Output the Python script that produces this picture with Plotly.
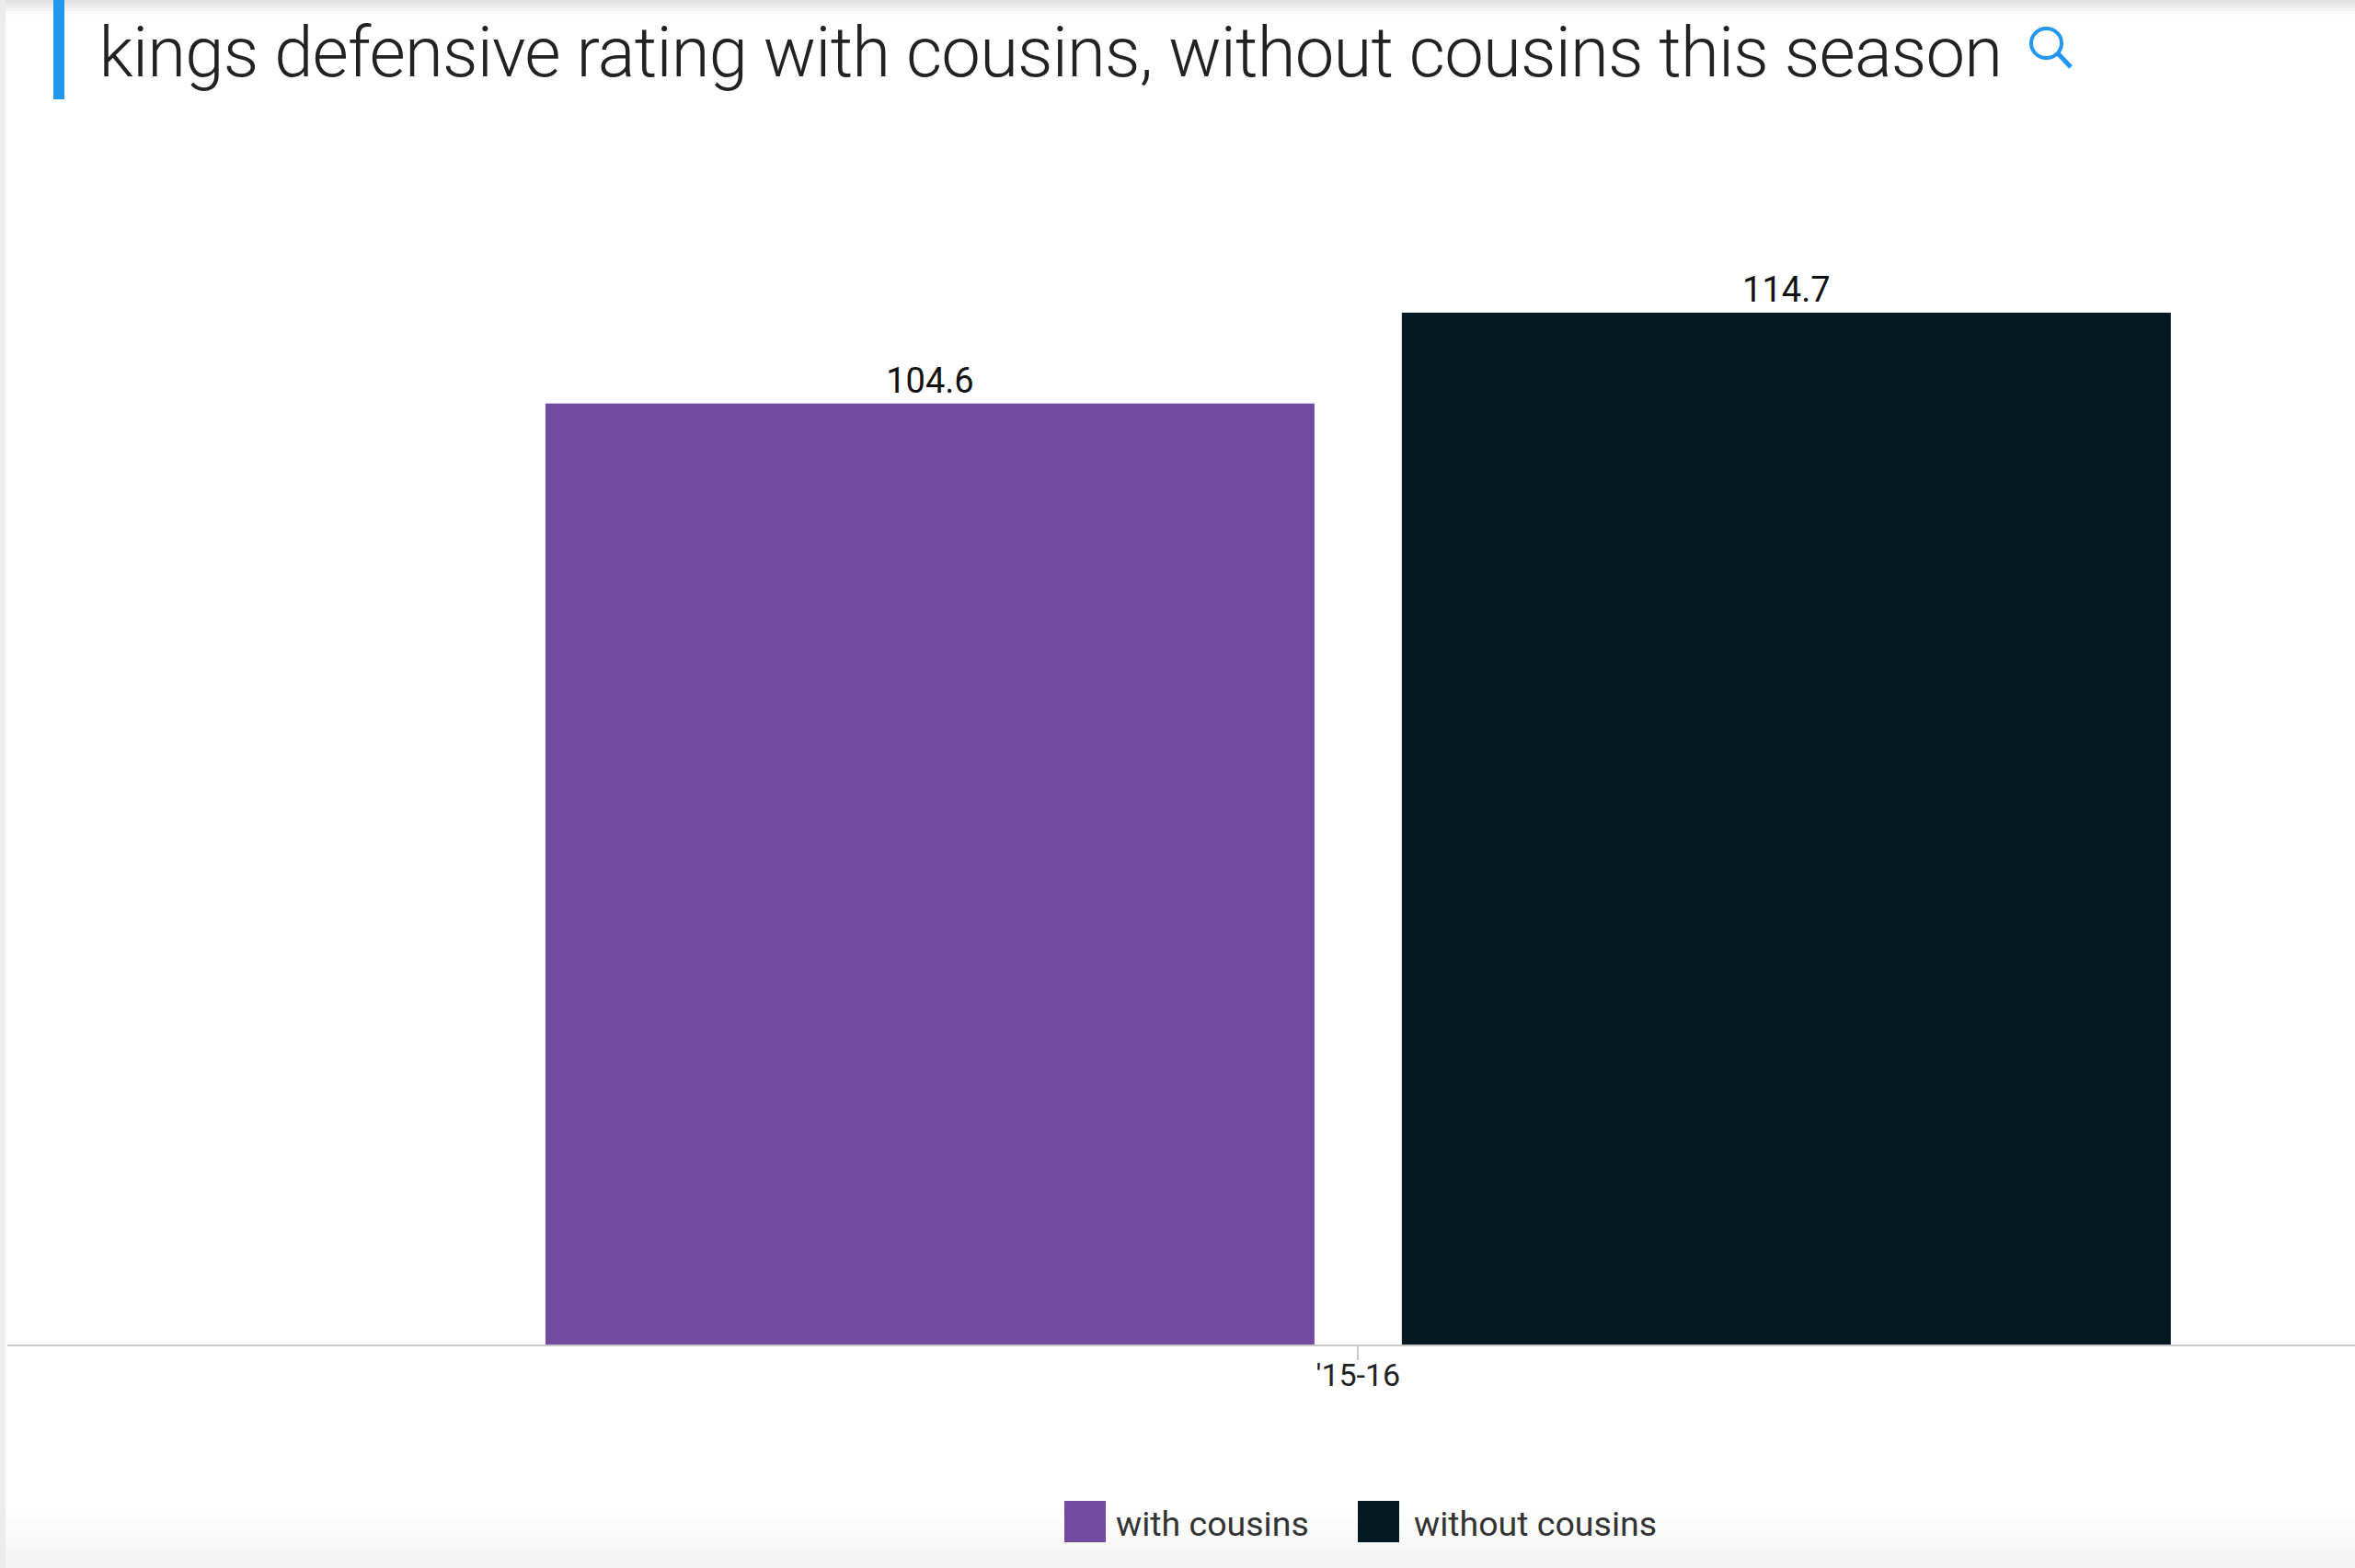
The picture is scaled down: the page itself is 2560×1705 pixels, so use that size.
import plotly.graph_objects as go

# Data
seasons = ["'15-16"]
with_cousins = [104.6]
without_cousins = [114.7]
series_names = ["with cousins", "without cousins"]
series_colors = ["#724BA1", "#051922"]

title_text = "kings defensive rating with cousins, without cousins this season"

W, H = 2560, 1705
M_L, M_T, M_B = 8, 100, 243
PLOT_W = W - M_L
PLOT_H = H - M_T - M_B


# page pixels to paper coords, for the decorations only
def fx(px):
    return (px - M_L) / PLOT_W


def fy(py):
    return (H - M_B - py) / PLOT_H


def rect(x0, x1, y0, y1, color, layer="below"):
    return dict(type="rect", xref="paper", yref="paper", layer=layer, line_width=0,
                x0=fx(x0), x1=fx(x1), y0=fy(y0), y1=fy(y1), fillcolor=color)


fig = go.Figure()

for name, vals, col in zip(series_names, [with_cousins, without_cousins], series_colors):
    fig.add_trace(go.Bar(
        x=seasons,
        y=vals,
        name=name,
        marker=dict(color=col, line=dict(width=0)),
        text=vals,
        texttemplate="%{y:.1f}",
        textposition="outside",
        cliponaxis=False,
        textfont=dict(family="Roboto", size=38, color="#111111"),
        hoverinfo="none"
    ))

shapes = []

# soft grey page edges from the screenshot
for i, c in enumerate(["#e2e2e2", "#e8e8e8", "#eeeeee", "#f4f4f4", "#f9f9f9", "#fdfdfd"]):
    shapes.append(rect(0, W, 3 * i, 3 * i + 3, c))
for i, c in enumerate(["#fefefe", "#fcfcfc", "#fafafa", "#f8f8f8", "#f6f6f6", "#f4f4f4"]):
    shapes.append(rect(0, W, 1640 + i * 11, 1651 + i * 11, c))
shapes.append(rect(0, 6, 0, H, "#ececec"))

# blue accent bar by the title
shapes.append(rect(58, 70, 0, 108, "#2196F3", layer="above"))

# search icon
shapes.append(dict(type="circle", xref="paper", yref="paper", fillcolor="rgba(0,0,0,0)",
                   line=dict(color="#2196F3", width=4),
                   x0=fx(2208), x1=fx(2241), y0=fy(63), y1=fy(31)))
shapes.append(dict(type="line", xref="paper", yref="paper", line=dict(color="#2196F3", width=5),
                   x0=fx(2237), x1=fx(2251), y0=fy(58), y1=fy(73)))

# big legend squares, the legend's own small swatches sit on top of them
for left, col in zip([1157, 1476], series_colors):
    shapes.append(rect(left, left + 45, 1632, 1677, col))

fig.update_layout(
    width=W,
    height=H,
    barmode="group",
    bargap=0.366,
    bargroupgap=0.102,
    plot_bgcolor="rgba(0,0,0,0)",
    paper_bgcolor="white",
    margin=dict(l=M_L, r=0, t=M_T, b=M_B, pad=0),
    shapes=shapes,
    showlegend=True,
    legend=dict(
        orientation="h",
        xref="paper",
        yref="paper",
        x=fx(1142),
        xanchor="left",
        y=fy(1655),
        yanchor="middle",
        itemwidth=61,
        entrywidth=248,
        entrywidthmode="pixels",
        traceorder="normal",
        bgcolor="rgba(0,0,0,0)",
        font=dict(family="Roboto", size=37.5, color="#333333")
    ),
    annotations=[dict(
        text=title_text,
        xref="paper",
        yref="paper",
        x=fx(79.5),
        xanchor="left",
        y=fy(57),
        yanchor="middle",
        showarrow=False,
        font=dict(family="Roboto", size=76, weight=300, color="#222222")
    )],
    xaxis=dict(
        type="category",
        range=[-0.5, 0.369],
        showline=True,
        linecolor="#c8c8c8",
        linewidth=2,
        ticks="outside",
        ticklen=15,
        tickwidth=2,
        tickcolor="#c8c8c8",
        ticklabelstandoff=-13,
        tickfont=dict(family="Roboto", size=34, color="#222222"),
        showgrid=False,
        zeroline=False
    ),
    yaxis=dict(
        range=[0, 139.23],
        visible=False,
        showgrid=False,
        zeroline=False
    )
)

# body margin off, title set tight like the original, legend text not cut at the entry width
post = """
document.body.style.margin = '0';
document.querySelectorAll('.annotation-text').forEach(function(t) { t.style.letterSpacing = '-0.8px'; });
document.querySelectorAll('.legend .scrollbox').forEach(function(s) { s.removeAttribute('clip-path'); s.style.clipPath = 'none'; });
"""
fig.write_html("out.html", post_script=post, config=dict(displayModeBar=False))
